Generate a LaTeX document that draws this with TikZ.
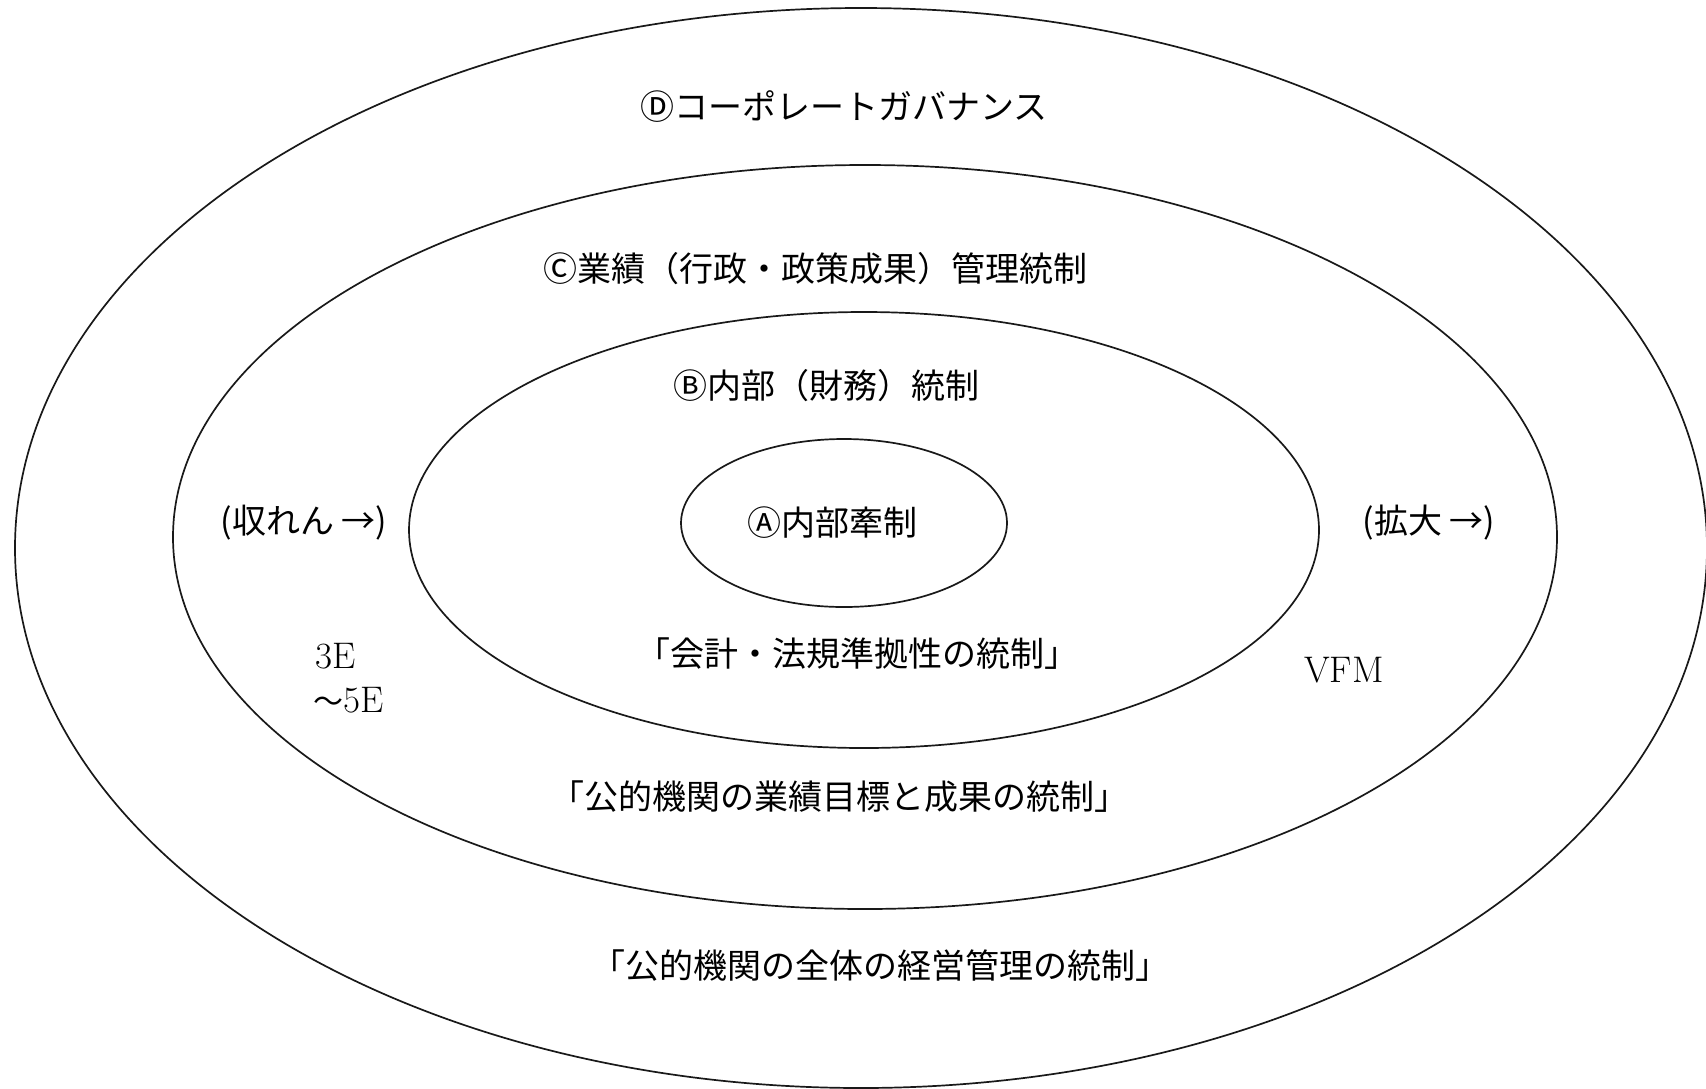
\documentclass[tikz,border=0pt]{standalone}
\usepackage{fontspec}
\newfontfamily\jp{Noto Sans CJK JP}
\usetikzlibrary{shapes.geometric}
\begin{document}
\begin{tikzpicture}[x=1pt,y=-1pt,
  ring/.style={draw=black!90, line width=1.7pt, ellipse, inner sep=0pt},
  jlabel/.style={font=\jp\fontsize{34}{40}\selectfont, inner sep=0pt, anchor=center},
  llabel/.style={font=\fontsize{37}{42}\selectfont, inner sep=0pt}]
\useasboundingbox (0,0) rectangle (1706,1088);
\fill[white] (0,0) rectangle (1706,1088);
\node[ring, minimum width=1692pt, minimum height=1080pt] (ringD) at (861,548) {};
\node[ring, minimum width=1384pt, minimum height=744pt] (ringC) at (865,537) {};
\node[ring, minimum width=910pt, minimum height=436pt] (ringB) at (864,530) {};
\node[ring, minimum width=326pt, minimum height=168pt] (ringA) at (844,523) {};

\node[jlabel] (tD) at (844,107) {Ⓓコーポレートガバナンス};
\node[jlabel] (tC) at (815,269) {Ⓒ業績（行政・政策成果）管理統制};
\node[jlabel] (tB) at (826,386) {Ⓑ内部（財務）統制};
\node[jlabel] (tA) at (832,523) {Ⓐ内部牽制};
\node[jlabel] (tConv) at (304,523) {(収れん →)};
\node[jlabel] (tExp) at (1429,523) {(拡大 →)};
\node[jlabel] (tB2) at (857,654) {「会計・法規準拠性の統制」};
\node[jlabel] (tC2) at (839,797) {「公的機関の業績目標と成果の統制」};
\node[jlabel] (tD2) at (880,966) {「公的機関の全体の経営管理の統制」};
\node[llabel, anchor=west] (t3E) at (315,656) {3E};
\node[llabel, anchor=west] (t5E) at (313,700) {{\jp\fontsize{30}{36}\selectfont ～}5E};
\node[llabel] (tVFM) at (1344,670) {VFM};
\end{tikzpicture}
\end{document}
